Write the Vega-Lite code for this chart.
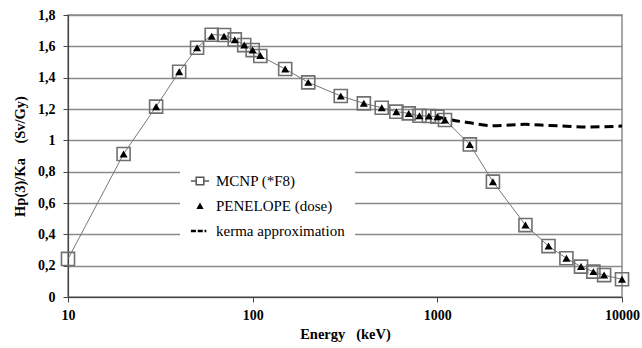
{
  "$schema": "https://vega.github.io/schema/vega-lite/v6.json",
  "width": 554,
  "height": 282,
  "autosize": {"type": "none"},
  "padding": {"left": 68, "top": 15, "right": 20, "bottom": 51},
  "background": "white",
  "config": {
    "font": "'Liberation Serif', 'Times New Roman', Times, serif",
    "view": {"stroke": "#8a8a8a", "strokeWidth": 1.5},
    "axis": {
      "labelFont": "'Liberation Serif', 'Times New Roman', Times, serif",
      "labelFontSize": 14,
      "labelFontWeight": "bold",
      "labelColor": "black",
      "titleFont": "'Liberation Serif', 'Times New Roman', Times, serif",
      "titleFontSize": 14.5,
      "titleFontWeight": "bold",
      "titleColor": "black",
      "tickSize": 5,
      "tickColor": "#444",
      "domainColor": "#444",
      "domainWidth": 1.2
    }
  },
  "datasets": {
    "pts": [
      {"E": 10, "v": 0.243, "series": "MCNP (*F8)"},
      {"E": 20, "v": 0.913, "series": "MCNP (*F8)"},
      {"E": 30, "v": 1.215, "series": "MCNP (*F8)"},
      {"E": 40, "v": 1.438, "series": "MCNP (*F8)"},
      {"E": 50, "v": 1.591, "series": "MCNP (*F8)"},
      {"E": 60, "v": 1.674, "series": "MCNP (*F8)"},
      {"E": 70, "v": 1.672, "series": "MCNP (*F8)"},
      {"E": 80, "v": 1.644, "series": "MCNP (*F8)"},
      {"E": 90, "v": 1.608, "series": "MCNP (*F8)"},
      {"E": 100, "v": 1.576, "series": "MCNP (*F8)"},
      {"E": 110, "v": 1.538, "series": "MCNP (*F8)"},
      {"E": 150, "v": 1.455, "series": "MCNP (*F8)"},
      {"E": 200, "v": 1.37, "series": "MCNP (*F8)"},
      {"E": 300, "v": 1.283, "series": "MCNP (*F8)"},
      {"E": 400, "v": 1.236, "series": "MCNP (*F8)"},
      {"E": 500, "v": 1.208, "series": "MCNP (*F8)"},
      {"E": 600, "v": 1.183, "series": "MCNP (*F8)"},
      {"E": 700, "v": 1.172, "series": "MCNP (*F8)"},
      {"E": 800, "v": 1.157, "series": "MCNP (*F8)"},
      {"E": 900, "v": 1.155, "series": "MCNP (*F8)"},
      {"E": 1000, "v": 1.151, "series": "MCNP (*F8)"},
      {"E": 1100, "v": 1.13, "series": "MCNP (*F8)"},
      {"E": 1500, "v": 0.974, "series": "MCNP (*F8)"},
      {"E": 2000, "v": 0.736, "series": "MCNP (*F8)"},
      {"E": 3000, "v": 0.459, "series": "MCNP (*F8)"},
      {"E": 4000, "v": 0.325, "series": "MCNP (*F8)"},
      {"E": 5000, "v": 0.247, "series": "MCNP (*F8)"},
      {"E": 6000, "v": 0.194, "series": "MCNP (*F8)"},
      {"E": 7000, "v": 0.162, "series": "MCNP (*F8)"},
      {"E": 8000, "v": 0.14, "series": "MCNP (*F8)"},
      {"E": 10000, "v": 0.113, "series": "MCNP (*F8)"},
      {"E": 20, "v": 0.913, "series": "PENELOPE (dose)"},
      {"E": 30, "v": 1.215, "series": "PENELOPE (dose)"},
      {"E": 40, "v": 1.438, "series": "PENELOPE (dose)"},
      {"E": 50, "v": 1.591, "series": "PENELOPE (dose)"},
      {"E": 60, "v": 1.665, "series": "PENELOPE (dose)"},
      {"E": 70, "v": 1.665, "series": "PENELOPE (dose)"},
      {"E": 80, "v": 1.642, "series": "PENELOPE (dose)"},
      {"E": 90, "v": 1.608, "series": "PENELOPE (dose)"},
      {"E": 100, "v": 1.576, "series": "PENELOPE (dose)"},
      {"E": 110, "v": 1.542, "series": "PENELOPE (dose)"},
      {"E": 150, "v": 1.455, "series": "PENELOPE (dose)"},
      {"E": 200, "v": 1.37, "series": "PENELOPE (dose)"},
      {"E": 300, "v": 1.283, "series": "PENELOPE (dose)"},
      {"E": 400, "v": 1.236, "series": "PENELOPE (dose)"},
      {"E": 500, "v": 1.208, "series": "PENELOPE (dose)"},
      {"E": 600, "v": 1.183, "series": "PENELOPE (dose)"},
      {"E": 700, "v": 1.172, "series": "PENELOPE (dose)"},
      {"E": 800, "v": 1.157, "series": "PENELOPE (dose)"},
      {"E": 900, "v": 1.155, "series": "PENELOPE (dose)"},
      {"E": 1000, "v": 1.151, "series": "PENELOPE (dose)"},
      {"E": 1100, "v": 1.13, "series": "PENELOPE (dose)"},
      {"E": 1500, "v": 0.974, "series": "PENELOPE (dose)"},
      {"E": 2000, "v": 0.736, "series": "PENELOPE (dose)"},
      {"E": 3000, "v": 0.459, "series": "PENELOPE (dose)"},
      {"E": 4000, "v": 0.325, "series": "PENELOPE (dose)"},
      {"E": 5000, "v": 0.247, "series": "PENELOPE (dose)"},
      {"E": 6000, "v": 0.194, "series": "PENELOPE (dose)"},
      {"E": 7000, "v": 0.162, "series": "PENELOPE (dose)"},
      {"E": 8000, "v": 0.14, "series": "PENELOPE (dose)"},
      {"E": 10000, "v": 0.113, "series": "PENELOPE (dose)"},
      {"E": 1000, "v": 1.15, "series": "kerma approximation"},
      {"E": 1100, "v": 1.14, "series": "kerma approximation"},
      {"E": 1200, "v": 1.13, "series": "kerma approximation"},
      {"E": 1500, "v": 1.112, "series": "kerma approximation"},
      {"E": 2000, "v": 1.093, "series": "kerma approximation"},
      {"E": 2500, "v": 1.098, "series": "kerma approximation"},
      {"E": 3000, "v": 1.102, "series": "kerma approximation"},
      {"E": 4000, "v": 1.095, "series": "kerma approximation"},
      {"E": 5000, "v": 1.09, "series": "kerma approximation"},
      {"E": 6500, "v": 1.085, "series": "kerma approximation"},
      {"E": 8000, "v": 1.087, "series": "kerma approximation"},
      {"E": 10000, "v": 1.091, "series": "kerma approximation"}
    ]
  },
  "data": {"name": "pts"},
  "encoding": {
    "x": {
      "field": "E",
      "type": "quantitative",
      "scale": {"type": "log", "domain": [10, 10000]},
      "axis": {
        "values": [10, 100, 1000, 10000],
        "format": "d",
        "grid": false,
        "labelFlush": false,
        "labelPadding": 6,
        "titlePadding": 5,
        "title": "Energy\u00a0\u00a0\u00a0(keV)"
      }
    },
    "y": {
      "field": "v",
      "type": "quantitative",
      "scale": {"domain": [0, 1.8], "nice": false, "zero": false},
      "axis": {
        "values": [0, 0.2, 0.4, 0.6, 0.8, 1, 1.2, 1.4, 1.6, 1.8],
        "labelExpr": "replace(format(datum.value, '~g'), '.', ',')",
        "grid": true,
        "gridColor": "#8a8a8a",
        "gridWidth": 1.5,
        "labelPadding": 8,
        "titlePadding": 10,
        "title": "Hp(3)/Ka\u00a0\u00a0\u00a0\u00a0(Sv/Gy)"
      }
    }
  },
  "layer": [
    {
      "transform": [{"filter": "datum.series === 'MCNP (*F8)'"}],
      "mark": {"type": "line", "color": "#777", "strokeWidth": 1}
    },
    {
      "transform": [{"filter": "datum.series === 'kerma approximation'"}],
      "mark": {"type": "line", "color": "black", "strokeWidth": 3, "strokeDash": [9, 5], "interpolate": "monotone"}
    },
    {
      "transform": [{"filter": "datum.series === 'MCNP (*F8)'"}],
      "mark": {"type": "point", "shape": "square", "filled": false, "stroke": "#707070", "strokeWidth": 1.6, "size": 170, "opacity": 1}
    },
    {
      "transform": [{"filter": "datum.series === 'PENELOPE (dose)'"}],
      "mark": {"type": "point", "shape": "triangle-up", "filled": true, "fill": "black", "size": 65, "opacity": 1}
    },
    {
      "transform": [{"filter": "false"}],
      "mark": {"type": "point", "filled": true, "strokeWidth": 1.4},
      "encoding": {
        "shape": {
          "field": "series",
          "type": "nominal",
          "scale": {
            "domain": ["MCNP (*F8)", "PENELOPE (dose)", "kerma approximation"],
            "range": [
              "M-1,0H-0.42M0.42,0H1M-0.42,-0.42H0.42V0.42H-0.42Z",
              "M0,-0.38L0.4,0.34L-0.4,0.34Z",
              "M-1,-0.14H-0.45V0.14H-1Z M-0.25,-0.14H0.3V0.14H-0.25Z M0.5,-0.14H0.7V0.14H0.5Z"
            ]
          },
          "legend": {
            "orient": "none",
            "legendX": 112,
            "legendY": 146,
            "title": null,
            "fillColor": "white",
            "padding": 10,
            "symbolSize": 330,
            "symbolOpacity": 1,
            "labelFont": "'Liberation Serif', 'Times New Roman', Times, serif",
            "labelFontSize": 15,
            "labelColor": "black",
            "labelOffset": 6,
            "rowPadding": 7,
            "labelLimit": 300
          }
        },
        "fill": {
          "field": "series",
          "type": "nominal",
          "scale": {
            "domain": ["MCNP (*F8)", "PENELOPE (dose)", "kerma approximation"],
            "range": ["transparent", "black", "black"]
          }
        },
        "stroke": {
          "field": "series",
          "type": "nominal",
          "scale": {
            "domain": ["MCNP (*F8)", "PENELOPE (dose)", "kerma approximation"],
            "range": ["#555", "transparent", "transparent"]
          }
        }
      }
    }
  ]
}
